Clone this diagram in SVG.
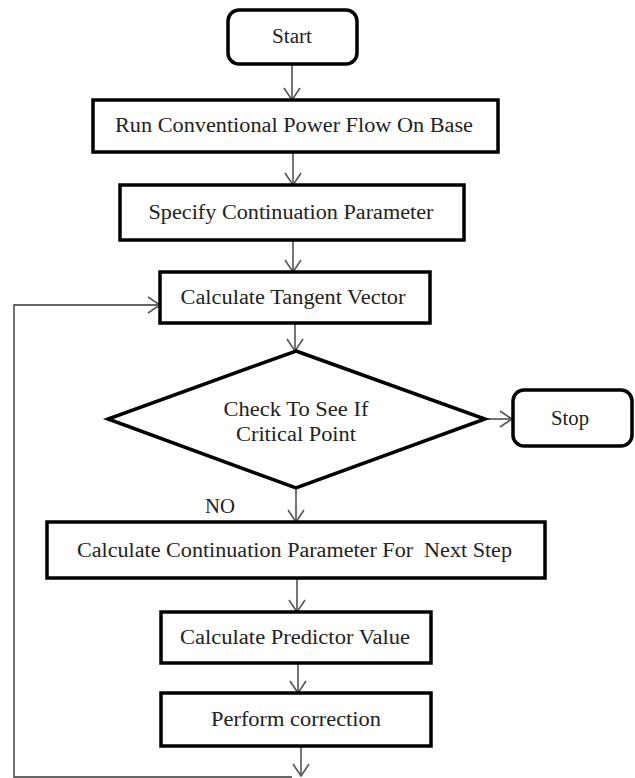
<svg xmlns="http://www.w3.org/2000/svg" width="635" height="778" viewBox="0 0 635 778">
<defs>
<marker id="arr" markerUnits="userSpaceOnUse" markerWidth="14" markerHeight="18" viewBox="0 0 14 18" refX="13" refY="9" orient="auto">
<path d="M1,1 L13,9 L1,17" fill="none" stroke="#555" stroke-width="1.6"/>
</marker>
</defs>
<style>
.box{fill:#fff;stroke:#000;stroke-width:3.5}
.t{font-family:"Liberation Serif","Times New Roman",serif;font-size:20px;fill:#222;text-anchor:middle}
.c{fill:none;stroke:#666;stroke-width:1.8}
</style>
<rect width="635" height="778" fill="#fff"/>
<g id="connectors">
<line class="c" x1="292" y1="64" x2="292" y2="100" marker-end="url(#arr)"/>
<line class="c" x1="293" y1="152" x2="293" y2="185" marker-end="url(#arr)"/>
<line class="c" x1="293" y1="240" x2="293" y2="272" marker-end="url(#arr)"/>
<line class="c" x1="295" y1="323" x2="295" y2="351" marker-end="url(#arr)"/>
<line class="c" x1="485" y1="419" x2="512" y2="419" marker-end="url(#arr)"/>
<line class="c" x1="296" y1="488" x2="296" y2="522" marker-end="url(#arr)"/>
<line class="c" x1="297" y1="578" x2="297" y2="612" marker-end="url(#arr)"/>
<line class="c" x1="298" y1="663" x2="298" y2="693" marker-end="url(#arr)"/>
<line class="c" x1="301" y1="746" x2="301" y2="776" marker-end="url(#arr)"/>
<polyline class="c" points="292,777 14,777 14,305 160,305" stroke="#888" marker-end="url(#arr)"/>
</g>
<g id="start">
<rect class="box" x="228" y="10" width="129" height="54" rx="11" stroke-width="3"/>
<text class="t" x="292" y="43" textLength="40" lengthAdjust="spacingAndGlyphs">Start</text>
</g>
<g id="run-power-flow">
<rect class="box" x="93" y="100" width="405" height="52"/>
<text class="t" x="294" y="132" textLength="358" lengthAdjust="spacingAndGlyphs">Run Conventional Power Flow On Base</text>
</g>
<g id="specify-parameter">
<rect class="box" x="120" y="185" width="344" height="55"/>
<text class="t" x="291" y="219" textLength="285" lengthAdjust="spacingAndGlyphs">Specify Continuation Parameter</text>
</g>
<g id="tangent-vector">
<rect class="box" x="160" y="272" width="270" height="51"/>
<text class="t" x="293" y="304" textLength="225" lengthAdjust="spacingAndGlyphs">Calculate Tangent Vector</text>
</g>
<g id="critical-check">
<polygon class="box" points="296,351 485,419 296,488 108,419" stroke-linejoin="miter"/>
<text class="t" x="296" y="416" textLength="145" lengthAdjust="spacingAndGlyphs">Check To See If</text>
<text class="t" x="296" y="441" textLength="120" lengthAdjust="spacingAndGlyphs">Critical Point</text>
</g>
<g id="stop">
<rect class="box" x="513" y="390" width="119" height="56" rx="11" stroke-width="3"/>
<text class="t" x="570" y="425" textLength="38" lengthAdjust="spacingAndGlyphs">Stop</text>
</g>
<g id="no-label">
<text class="t" x="220" y="513" textLength="30" lengthAdjust="spacingAndGlyphs">NO</text>
</g>
<g id="next-step">
<rect class="box" x="47" y="522" width="498" height="56"/>
<text class="t" x="294.5" y="557" textLength="435" lengthAdjust="spacingAndGlyphs" xml:space="preserve">Calculate Continuation Parameter For  Next Step</text>
</g>
<g id="predictor">
<rect class="box" x="161" y="612" width="270" height="51"/>
<text class="t" x="295" y="644" textLength="230" lengthAdjust="spacingAndGlyphs">Calculate Predictor Value</text>
</g>
<g id="correction">
<rect class="box" x="161" y="693" width="270" height="53"/>
<text class="t" x="296" y="726" textLength="170" lengthAdjust="spacingAndGlyphs">Perform correction</text>
</g>
</svg>
